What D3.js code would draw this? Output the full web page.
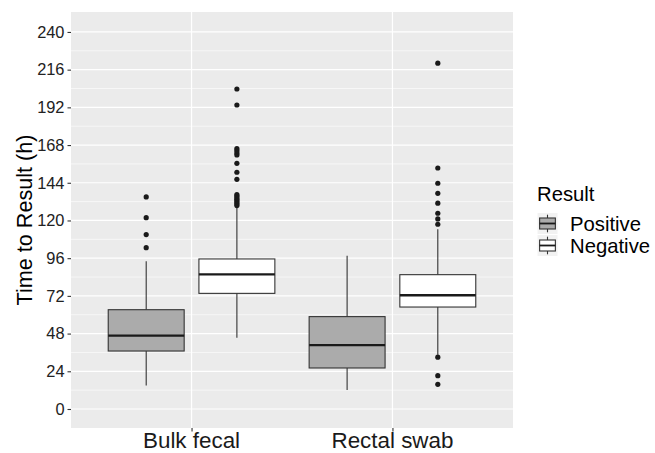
<!DOCTYPE html>
<html>
<head>
<meta charset="utf-8">
<script src="https://cdn.jsdelivr.net/npm/d3@7"></script>
<style>
  body { margin: 0; background: #fff; }
  text { font-family: "Liberation Sans", Arial, sans-serif; }
</style>
</head>
<body>
<div id="graph"></div>
<script>
const width = 655,
  height = 453;

// data
const categories = ["Bulk fecal", "Rectal swab"];
const groups = ["Positive", "Negative"];
// [lower whisker, q1, median, q3, upper whisker] per category
const positiveStats = [[15, 36.9, 46.7, 63.2, 94.0], [12.1, 26.1, 40.7, 58.8, 97.6]];
const negativeStats = [[45.4, 73.6, 85.7, 95.5, 128.2], [34.5, 64.9, 72.4, 85.5, 114.4]];
const positiveOutliers = [[102.7, 111.0, 121.8, 135.0], []];
const negativeOutliers = [
  [129.5, 130.5, 131.5, 132.5, 133.5, 134.5, 135.5, 136.5, 146.2, 150.7, 156.4,
   161.7, 163, 164.5, 165.8, 193.5, 203.7],
  [15.7, 21.2, 33, 117.6, 121.0, 124.6, 131.0, 137.3, 143.7, 153.4, 220.1]
];
const yTicks = [0, 24, 48, 72, 96, 120, 144, 168, 192, 216, 240];
const yMinor = [12, 36, 60, 84, 108, 132, 156, 180, 204, 228];

const fills = { Positive: "#ababab", Negative: "#ffffff" };

const panel = { left: 71, right: 513, top: 12, bottom: 428 };

const svg = d3.select("#graph").append("svg")
  .attr("width", width)
  .attr("height", height);

const x = d3.scalePoint()
  .domain(categories)
  .range([panel.left, panel.right])
  .padding(0.6);

const y = d3.scaleLinear()
  .domain([-12.1, 252.7])
  .range([panel.bottom, panel.top]);

const step = x.step();
const dodge = d3.scaleOrdinal().domain(groups).range([-0.2257 * step, 0.2257 * step]);
const boxW = 0.378 * step;

// panel
svg.append("rect")
  .attr("x", panel.left).attr("y", panel.top)
  .attr("width", panel.right - panel.left)
  .attr("height", panel.bottom - panel.top)
  .attr("fill", "#ebebeb");

svg.append("g").selectAll("line")
  .data(yMinor).join("line")
  .attr("x1", panel.left).attr("x2", panel.right)
  .attr("y1", d => y(d)).attr("y2", d => y(d))
  .attr("stroke", "#fff").attr("stroke-width", 0.6);

svg.append("g").selectAll("line")
  .data(yTicks).join("line")
  .attr("x1", panel.left).attr("x2", panel.right)
  .attr("y1", d => y(d)).attr("y2", d => y(d))
  .attr("stroke", "#fff").attr("stroke-width", 1.2);

svg.append("g").selectAll("line")
  .data(categories).join("line")
  .attr("x1", d => x(d)).attr("x2", d => x(d))
  .attr("y1", panel.top).attr("y2", panel.bottom)
  .attr("stroke", "#fff").attr("stroke-width", 1.2);

// boxes
const boxes = [];
categories.forEach((c, i) => {
  boxes.push({ cat: c, group: "Positive", s: positiveStats[i], out: positiveOutliers[i] });
  boxes.push({ cat: c, group: "Negative", s: negativeStats[i], out: negativeOutliers[i] });
});

const bx = svg.append("g").selectAll("g")
  .data(boxes).join("g")
  .attr("transform", d => `translate(${x(d.cat) + dodge(d.group)},0)`);

bx.append("line")
  .attr("y1", d => y(d.s[0])).attr("y2", d => y(d.s[1]))
  .attr("stroke", "#333").attr("stroke-width", 1.1);
bx.append("line")
  .attr("y1", d => y(d.s[3])).attr("y2", d => y(d.s[4]))
  .attr("stroke", "#333").attr("stroke-width", 1.1);
bx.append("rect")
  .attr("x", -boxW / 2).attr("width", boxW)
  .attr("y", d => y(d.s[3]))
  .attr("height", d => y(d.s[1]) - y(d.s[3]))
  .attr("fill", d => fills[d.group])
  .attr("stroke", "#333").attr("stroke-width", 1.1);
bx.append("line")
  .attr("x1", -boxW / 2).attr("x2", boxW / 2)
  .attr("y1", d => y(d.s[2])).attr("y2", d => y(d.s[2]))
  .attr("stroke", "#1a1a1a").attr("stroke-width", 2.3);
bx.selectAll("circle")
  .data(d => d.out).join("circle")
  .attr("r", 2.6)
  .attr("cy", d => y(d))
  .attr("fill", "#1a1a1a");

// axes
const yAxis = svg.append("g")
  .attr("transform", `translate(${panel.left},0)`)
  .call(d3.axisLeft(y).tickValues(yTicks).tickSize(3.5).tickPadding(3));
yAxis.select(".domain").remove();
yAxis.selectAll(".tick line").attr("stroke", "#333").attr("stroke-width", 1.1);
yAxis.selectAll(".tick text")
  .attr("fill", "#222")
  .style("font-size", "16.4px")
  .style("font-family", "Liberation Sans, Arial, sans-serif");

const xAxis = svg.append("g")
  .attr("transform", `translate(0,${panel.bottom})`)
  .call(d3.axisBottom(x).tickSize(3.5).tickFormat(""));
xAxis.select(".domain").remove();
xAxis.selectAll(".tick line").attr("stroke", "#333").attr("stroke-width", 1.1);

svg.append("g").selectAll("text")
  .data(categories).join("text")
  .attr("x", d => x(d))
  .attr("y", 448)
  .attr("text-anchor", "middle")
  .attr("fill", "#1a1a1a")
  .style("font-size", "22.4px")
  .text(d => d);

svg.append("text")
  .attr("transform", `translate(31.5,${(panel.top + panel.bottom) / 2}) rotate(-90)`)
  .attr("text-anchor", "middle")
  .attr("fill", "#000")
  .style("font-size", "21.6px")
  .text("Time to Result (h)");

// legend
const legend = svg.append("g");
legend.append("text")
  .attr("x", 537).attr("y", 201)
  .attr("fill", "#000")
  .style("font-size", "20.3px")
  .text("Result");

const keyW = 21, keyH = 22;
const keyY = d3.scaleBand().domain(groups).range([212.5, 212.5 + 2 * keyH]);
const key = legend.selectAll("g.key")
  .data(groups).join("g")
  .attr("class", "key")
  .attr("transform", d => `translate(537,${keyY(d)})`);
key.append("rect")
  .attr("width", keyW).attr("height", keyH)
  .attr("fill", "#f2f2f2").attr("stroke", "#fff");
key.append("line")
  .attr("x1", keyW / 2).attr("x2", keyW / 2)
  .attr("y1", keyH * 0.1).attr("y2", keyH * 0.9)
  .attr("stroke", "#333").attr("stroke-width", 1.1);
key.append("rect")
  .attr("x", keyW * 0.125).attr("width", keyW * 0.75)
  .attr("y", keyH * 0.25).attr("height", keyH * 0.5)
  .attr("fill", d => fills[d])
  .attr("stroke", "#333").attr("stroke-width", 1.1);
key.append("line")
  .attr("x1", keyW * 0.125).attr("x2", keyW * 0.875)
  .attr("y1", keyH / 2).attr("y2", keyH / 2)
  .attr("stroke", "#1a1a1a").attr("stroke-width", 1.8);
key.append("text")
  .attr("x", 33).attr("y", keyH / 2)
  .attr("dy", "0.35em")
  .attr("fill", "#000")
  .style("font-size", "20.3px")
  .text(d => d);
</script>
</body>
</html>
